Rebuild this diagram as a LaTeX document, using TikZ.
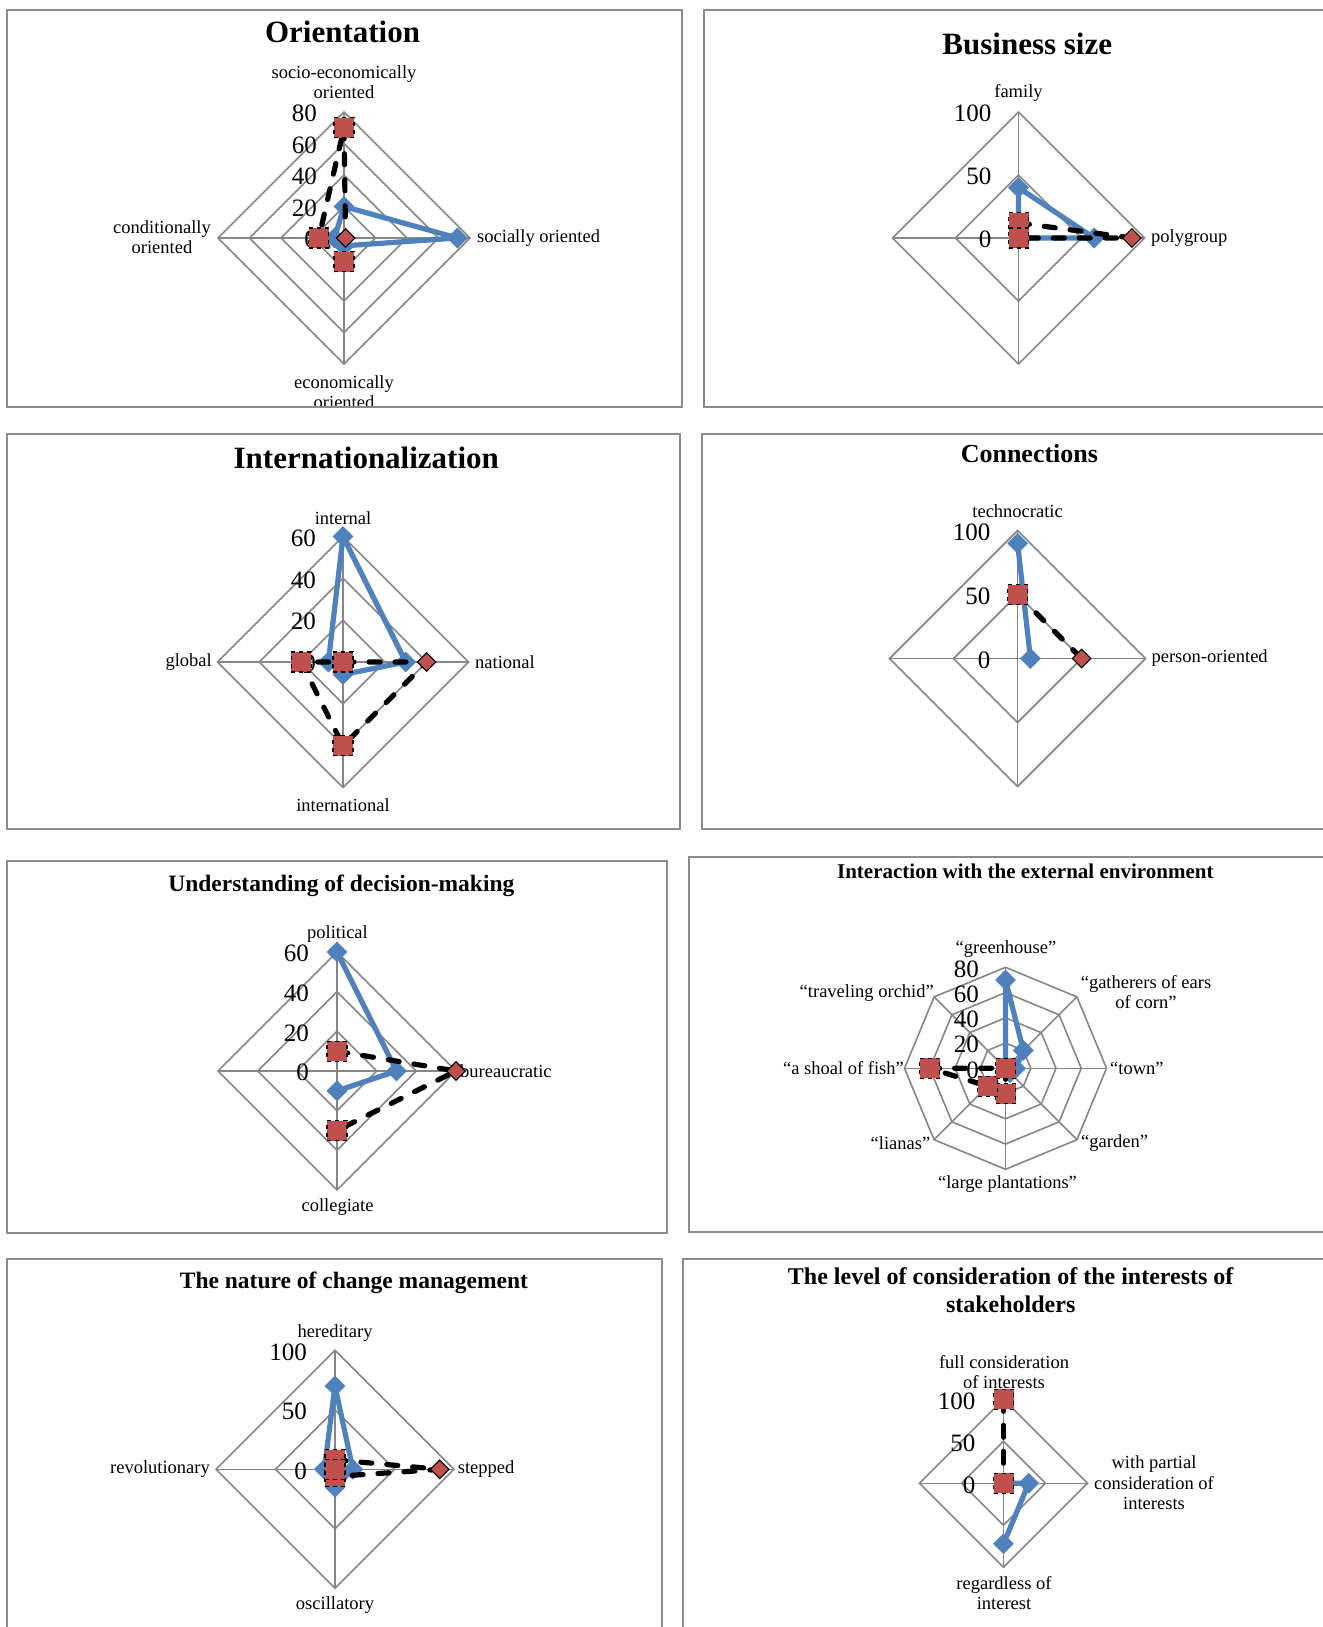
\documentclass[tikz,border=0pt]{standalone}
\usepackage{fontspec}
\setmainfont{Liberation Serif}
\usetikzlibrary{shapes.geometric}

\definecolor{serblue}{HTML}{4F81BD}
\definecolor{serred}{HTML}{C0504D}
\definecolor{gridgray}{HTML}{868686}
\definecolor{framegray}{HTML}{8C8C8C}

\tikzset{
  gridline/.style={draw=gridgray, line width=1.6pt, line join=miter},
  panelframe/.style={draw=framegray, line width=2pt},
  ctitle/.style={inner sep=0pt, align=center, font=\bfseries\fontsize{#1}{28}\selectfont},
  axlabel/.style={font=\fontsize{18.5}{20.5}\selectfont, inner sep=0pt, align=center},
  vallabel/.style={font=\fontsize{25}{28}\selectfont, inner sep=0pt, anchor=east},
  blueline/.style={draw=serblue, line width=5.2pt, line join=round, line cap=round},
  dashline/.style={draw=black, line width=5.2pt, line cap=round, line join=round, dash pattern=on 11pt off 15pt},
  bluemark/.style={diamond, fill=serblue, minimum size=21pt, inner sep=0pt},
  redsq/.style={rectangle, fill=serred, minimum size=20pt, inner sep=0pt, draw=black, line width=1.1pt, dash pattern=on 4pt off 4pt},
  reddia/.style={diamond, fill=serred, minimum size=19pt, inner sep=0pt, draw=black, line width=1.1pt},
}

% web of a radar chart: #1 axes, #2 radius, #3 rings
\newcommand\radargrid[3]{%
  \foreach \k in {1,...,#3}{%
    \pgfmathsetmacro\rr{#2*\k/#3}%
    \draw[gridline] (-90:\rr) \foreach \i in {1,...,#1}{ -- ({-90+\i*360/#1}:\rr)} -- cycle;
  }%
  \foreach \i in {1,...,#1}{\draw[gridline] (0,0) -- ({-90+(\i-1)*360/#1}:#2);}%
}
% named points of one series: #1 prefix, #2 axes, #3 radius per unit, #4 values
\newcommand\radarpoints[4]{%
  \foreach \v [count=\i] in {#4}{%
    \coordinate (#1\i) at ({-90+(\i-1)*360/#2}:{\v*#3});
  }%
}

\begin{document}
\begin{tikzpicture}[x=1pt, y=-1pt]
\useasboundingbox (0,0) rectangle (1322,1627);
\fill[white] (0,0) rectangle (1322,1627);

% ---------------- Orientation ----------------
\begin{scope}
\clip (7,10.5) rectangle (682,407);
\node[ctitle=31] (p1title) at (342.5,32) {Orientation};
\node[axlabel] (p1ax1) at (344,82) {socio-economically\\oriented};
\node[axlabel, anchor=west] (p1ax2) at (477,238) {socially oriented};
\node[axlabel] (p1ax3) at (344,392) {economically\\oriented};
\node[axlabel] (p1ax4) at (162,237) {conditionally\\oriented};
\begin{scope}[shift={(344,238)}]
  \radargrid{4}{126}{4}
  \foreach \v in {0,20,40,60,80} \node[vallabel] (p1v\v) at (-27,{1.5-\v*126/80}) {\v};
  \radarpoints{p1b}{4}{126/80}{20,72,5,6}
  \radarpoints{p1r}{4}{126/80}{70,1,15,16}
  \draw[blueline] (p1b1) -- (p1b2) -- (p1b3) -- (p1b4) -- cycle;
  \foreach \i in {1,...,4} \node[bluemark] (p1bm\i) at (p1b\i) {};
  \draw[dashline] (p1r1) -- (p1r2) -- (p1r3) -- (p1r4) -- cycle;
  \node[reddia] (p1rm2) at (p1r2) {};
  \foreach \i in {1,3,4} \node[redsq] (p1rm\i) at (p1r\i) {};
\end{scope}
\end{scope}
\draw[panelframe] (7,10.5) rectangle (682,407);

% ---------------- Business size ----------------
\begin{scope}
\clip (703.5,10.5) rectangle (1340,407);
\node[ctitle=31] (p2title) at (1027.3,43.6) {Business size};
\node[axlabel] (p2ax1) at (1018.5,93) {family};
\node[axlabel, anchor=west] (p2ax2) at (1151,238) {polygroup};
\begin{scope}[shift={(1018.5,238)}]
  \radargrid{4}{126}{2}
  \foreach \v in {0,50,100} \node[vallabel] (p2v\v) at (-27,{1.5-\v*126/100}) {\v};
  \radarpoints{p2b}{4}{126/100}{40,60,0,0}
  \radarpoints{p2r}{4}{126/100}{12,90,0,0}
  \draw[blueline] (p2b1) -- (p2b2) -- (p2b3) -- (p2b4) -- cycle;
  \foreach \i in {1,2} \node[bluemark] (p2bm\i) at (p2b\i) {};
  \draw[dashline] (p2r1) -- (p2r2) -- (p2r3) -- (p2r4) -- cycle;
  \node[reddia] (p2rm2) at (p2r2) {};
  \foreach \i in {1,3,4} \node[redsq] (p2rm\i) at (p2r\i) {};
\end{scope}
\end{scope}
\draw[panelframe] (703.5,10.5) rectangle (1340,407);

% ---------------- Internationalization ----------------
\begin{scope}
\clip (7,434) rectangle (680,829);
\node[ctitle=31] (p3title) at (366.3,457.6) {Internationalization};
\node[axlabel] (p3ax1) at (343,518) {internal};
\node[axlabel, anchor=west] (p3ax2) at (475,662) {national};
\node[axlabel] (p3ax3) at (343,805) {international};
\node[axlabel, anchor=east] (p3ax4) at (212,662) {global};
\begin{scope}[shift={(343,662)}]
  \radargrid{4}{125.5}{3}
  \foreach \v in {0,20,40,60} \node[vallabel] (p3v\v) at (-27,{1.5-\v*125.5/60}) {\v};
  \radarpoints{p3b}{4}{125.5/60}{60,30,6,7}
  \radarpoints{p3r}{4}{125.5/60}{0,40,40,20}
  \draw[blueline] (p3b1) -- (p3b2) -- (p3b3) -- (p3b4) -- cycle;
  \foreach \i in {1,...,4} \node[bluemark] (p3bm\i) at (p3b\i) {};
  \draw[dashline] (p3r1) -- (p3r2) -- (p3r3) -- (p3r4) -- cycle;
  \node[reddia] (p3rm2) at (p3r2) {};
  \foreach \i in {1,3,4} \node[redsq] (p3rm\i) at (p3r\i) {};
\end{scope}
\end{scope}
\draw[panelframe] (7,434) rectangle (680,829);

% ---------------- Connections ----------------
\begin{scope}
\clip (701.5,434) rectangle (1340,829);
\node[ctitle=26] (p4title) at (1029.4,453.5) {Connections};
\node[axlabel] (p4ax1) at (1017.6,510.7) {technocratic};
\node[axlabel, anchor=west] (p4ax2) at (1151.4,658) {person-oriented};
\begin{scope}[shift={(1017.6,658.5)}]
  \radargrid{4}{128}{2}
  \foreach \v in {0,50,100} \node[vallabel] (p4v\v) at (-27,{1.5-\v*128/100}) {\v};
  \radarpoints{p4b}{4}{128/100}{90,10}
  \radarpoints{p4r}{4}{128/100}{50,50}
  \draw[blueline] (p4b1) -- (p4b2);
  \foreach \i in {1,2} \node[bluemark] (p4bm\i) at (p4b\i) {};
  \draw[dashline] (p4r1) -- (p4r2);
  \node[redsq] (p4rm1) at (p4r1) {};
  \node[reddia] (p4rm2) at (p4r2) {};
\end{scope}
\end{scope}
\draw[panelframe] (701.5,434) rectangle (1340,829);

% ---------------- Understanding of decision-making ----------------
\begin{scope}
\clip (7,860.5) rectangle (666.5,1233);
\node[ctitle=23.5] (p5title) at (341.4,886.2) {Understanding of decision-making};
\node[axlabel] (p5ax1) at (337.5,934) {political};
\node[axlabel, anchor=west] (p5ax2) at (460,1071) {bureaucratic};
\node[axlabel] (p5ax3) at (337.5,1206.7) {collegiate};
\begin{scope}[shift={(337,1071)}]
  \radargrid{4}{119}{3}
  \foreach \v in {0,20,40,60} \node[vallabel] (p5v\v) at (-28,{1.5-\v*119/60}) {\v};
  \radarpoints{p5b}{4}{119/60}{60,30,10}
  \radarpoints{p5r}{4}{119/60}{10,60,30}
  \draw[blueline] (p5b1) -- (p5b2) -- (p5b3);
  \foreach \i in {1,...,3} \node[bluemark] (p5bm\i) at (p5b\i) {};
  \draw[dashline] (p5r1) -- (p5r2) -- (p5r3);
  \node[reddia] (p5rm2) at (p5r2) {};
  \foreach \i in {1,3} \node[redsq] (p5rm\i) at (p5r\i) {};
\end{scope}
\end{scope}
\draw[panelframe] (7,860.5) rectangle (666.5,1233);

% ---------------- Interaction with the external environment ----------------
\begin{scope}
\clip (688.5,857) rectangle (1340,1232);
\node[ctitle=21] (p6title) at (1025.3,871.7) {Interaction with the external environment};
\node[axlabel] (p6ax1) at (1006,949) {“greenhouse”};
\node[axlabel] (p6ax2) at (1146,992) {“gatherers of ears\\of corn”};
\node[axlabel, anchor=west] (p6ax3) at (1110,1068) {“town”};
\node[axlabel, anchor=west] (p6ax4) at (1081,1142.7) {“garden”};
\node[axlabel] (p6ax5) at (1007.5,1184) {“large plantations”};
\node[axlabel, anchor=east] (p6ax6) at (930.5,1142.7) {“lianas”};
\node[axlabel, anchor=east] (p6ax7) at (904,1068) {“a shoal of fish”};
\node[axlabel, anchor=east] (p6ax8) at (934,992.7) {“traveling orchid”};
\begin{scope}[shift={(1005.5,1068.3)}]
  \radargrid{8}{101}{4}
  \foreach \v in {0,20,40,60,80} \node[vallabel] (p6v\v) at (-26.5,{1.5-\v*101/80}) {\v};
  \radarpoints{p6b}{8}{101/80}{70,20,8,5,0,0,0,0}
  \radarpoints{p6r}{8}{101/80}{0,0,0,0,20,20,60,0}
  \draw[blueline] (p6b1) -- (p6b2) -- (p6b3) -- (p6b4) -- (p6b5) -- (p6b6) -- (p6b7) -- (p6b8) -- cycle;
  \foreach \i in {1,...,4} \node[bluemark] (p6bm\i) at (p6b\i) {};
  \draw[dashline] (p6r1) -- (p6r2) -- (p6r3) -- (p6r4) -- (p6r5) -- (p6r6) -- (p6r7) -- (p6r8) -- cycle;
  \node[reddia] (p6rm2) at (p6r2) {};
  \foreach \i in {1,3,4,5,6,7,8} \node[redsq] (p6rm\i) at (p6r\i) {};
\end{scope}
\end{scope}
\draw[panelframe] (688.5,857) rectangle (1340,1232);

% ---------------- The nature of change management ----------------
\begin{scope}
\clip (7,1259) rectangle (661.5,1640);
\node[ctitle=23.5] (p7title) at (353.9,1282.6) {The nature of change management};
\node[axlabel] (p7ax1) at (335,1333.3) {hereditary};
\node[axlabel, anchor=west] (p7ax2) at (457.6,1469) {stepped};
\node[axlabel] (p7ax3) at (335,1605) {oscillatory};
\node[axlabel, anchor=east] (p7ax4) at (210,1469) {revolutionary};
\begin{scope}[shift={(335,1469.3)}]
  \radargrid{4}{119}{2}
  \foreach \v in {0,50,100} \node[vallabel] (p7v\v) at (-28,{1.5-\v*119/100}) {\v};
  \radarpoints{p7b}{4}{119/100}{70,15,15,9}
  \radarpoints{p7r}{4}{119/100}{8,88,6,0}
  \draw[blueline] (p7b1) -- (p7b2) -- (p7b3) -- (p7b4) -- cycle;
  \foreach \i in {1,...,4} \node[bluemark] (p7bm\i) at (p7b\i) {};
  \draw[dashline] (p7r1) -- (p7r2) -- (p7r3) -- (p7r4) -- cycle;
  \node[reddia] (p7rm2) at (p7r2) {};
  \foreach \i in {1,3,4} \node[redsq] (p7rm\i) at (p7r\i) {};
\end{scope}
\end{scope}
\draw[panelframe] (7,1259) rectangle (661.5,1640);

% ---------------- The level of consideration of the interests of stakeholders ----------------
\begin{scope}
\clip (683,1259) rectangle (1340,1640);
\node[ctitle=24] (p8title) at (1010.7,1290.4) {The level of consideration of the interests of\\stakeholders};
\node[axlabel] (p8ax1) at (1004,1372) {full consideration\\of interests};
\node[axlabel] (p8ax2) at (1154,1483) {with partial\\consideration of\\interests};
\node[axlabel] (p8ax3) at (1004,1593) {regardless of\\interest};
\begin{scope}[shift={(1003.5,1483.3)}]
  \radargrid{4}{84}{2}
  \foreach \v in {0,50,100} \node[vallabel] (p8v\v) at (-28,{1.5-\v*84/100}) {\v};
  \radarpoints{p8b}{4}{84/100}{0,30,72}
  \radarpoints{p8r}{4}{84/100}{100,0,0,0}
  \draw[blueline] (p8b1) -- (p8b2) -- (p8b3);
  \foreach \i in {2,3} \node[bluemark] (p8bm\i) at (p8b\i) {};
  \draw[dashline] (p8r1) -- (p8r2) -- (p8r3) -- (p8r4) -- cycle;
  \node[reddia] (p8rm2) at (p8r2) {};
  \foreach \i in {1,3,4} \node[redsq] (p8rm\i) at (p8r\i) {};
\end{scope}
\end{scope}
\draw[panelframe] (683,1259) rectangle (1340,1640);
\end{tikzpicture}
\end{document}
